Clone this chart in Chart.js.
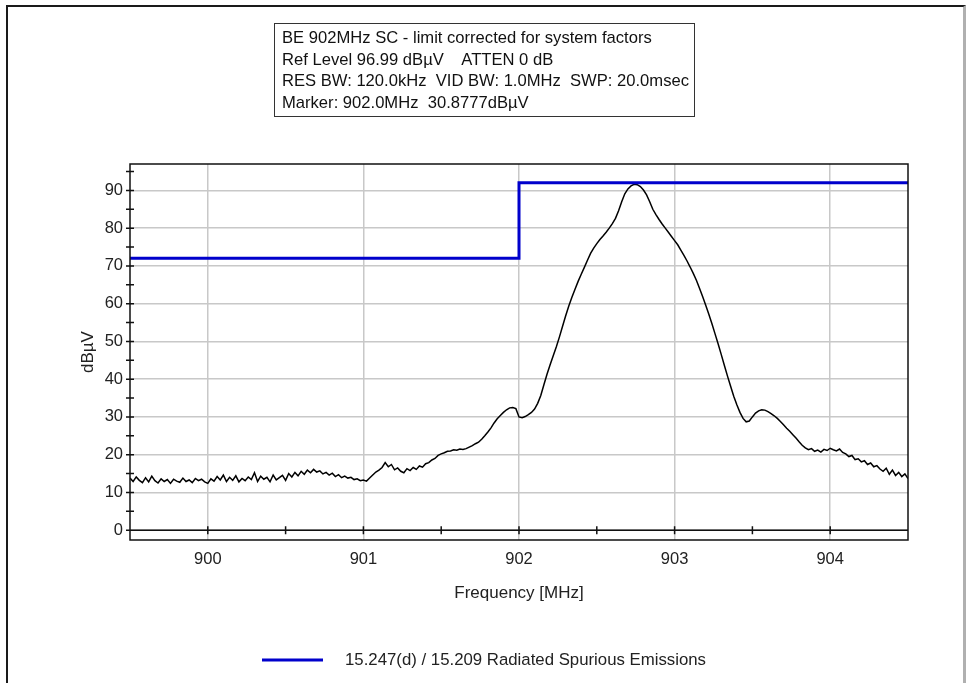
<!DOCTYPE html>
<html>
<head>
<meta charset="utf-8">
<title>BE 902MHz SC - limit corrected for system factors</title>
<script src="https://cdn.jsdelivr.net/npm/chart.js@4.4.0/dist/chart.umd.min.js"></script>
<style>
  html, body { margin: 0; padding: 0; background: #fff; }
  body { width: 967px; height: 683px; position: relative; overflow: hidden; font-family: "Liberation Sans", Arial, sans-serif; }
  #chart { position: absolute; left: 0; top: 0; }
  .frame { position: absolute; left: 6px; top: 5px; width: 955px; height: 720px; border-left: 2px solid #1a1a1a; border-top: 2px solid #1a1a1a; border-right: 3px solid #b0b0b0; }
  .info { position: absolute; left: 274px; top: 23px; width: 421px; height: 94px; box-sizing: border-box; border: 1.5px solid #333; padding: 3px 0 0 7px; font-size: 16.6px; line-height: 21.7px; color: #111; white-space: nowrap; }
</style>
</head>
<body>
<div class="frame"></div>
<canvas id="chart" width="967" height="683"></canvas>
<div class="info">
  BE 902MHz SC - limit corrected for system factors<br>
  Ref Level 96.99 dBµV &nbsp;&nbsp; ATTEN 0 dB<br>
  RES BW: 120.0kHz &nbsp;VID BW: 1.0MHz &nbsp;SWP: 20.0msec<br>
  Marker: 902.0MHz &nbsp;30.8777dBµV
</div>
<script>
// sweep: 899.50 .. 904.50 MHz, one reading every 0.02 MHz
var sweepStart = 899.5;
var sweepStep = 0.02;
var traceLevels = [
  13.8, 12.9, 14.1, 13.2, 12.6, 13.9, 12.8, 14.3, 13.1, 12.5,
  13.6, 12.9, 13.4, 12.4, 13.5, 13.0, 12.7, 13.8, 12.9, 13.3,
  12.6, 13.7, 13.1, 13.5, 12.8, 12.4, 13.6, 13.0, 14.2, 13.3,
  14.6, 12.9, 14.0, 13.2, 14.4, 12.8, 13.7, 13.1, 14.1, 13.4,
  15.2, 12.9, 14.3, 13.5, 14.0, 12.8, 14.6, 13.3, 13.9, 14.5,
  13.2, 15.0, 14.1, 15.3, 14.4, 15.6, 14.8, 15.9, 15.2, 16.1,
  15.4, 15.7, 14.9, 15.3, 14.6, 15.1, 14.2, 14.7, 13.9, 14.3,
  13.8, 14.0, 13.4, 13.6, 13.1, 13.3, 13.0, 13.8, 14.6, 15.4,
  15.9, 16.6, 17.9, 16.8, 17.4, 16.0, 16.5, 15.6, 15.2, 16.3,
  15.8, 16.6, 16.1, 17.0, 16.7, 17.6, 17.9, 18.6, 19.0, 19.8,
  20.2, 20.5, 20.9, 21.0, 21.3, 21.2, 21.5, 21.4, 21.6, 22.0,
  22.4, 22.9, 23.3, 24.1, 25.0, 26.0, 27.1, 28.4, 29.5, 30.4,
  31.2, 31.9, 32.4, 32.5, 32.2, 30.0, 29.8, 30.1, 30.6, 31.2,
  32.1, 33.6, 35.7, 38.5, 41.3, 43.8, 46.2, 48.6, 51.2, 54.0,
  56.8, 59.4, 61.7, 63.8, 65.9, 67.8, 69.6, 71.5, 73.3, 74.7,
  75.9, 77.0, 77.9, 78.9, 80.0, 81.2, 82.6, 84.6, 87.0, 89.1,
  90.4, 91.2, 91.6, 91.5, 91.0, 90.1, 88.8, 87.0, 85.0, 83.6,
  82.3, 81.1, 80.0, 78.9, 77.8, 76.7, 75.6, 74.2, 72.8, 71.3,
  69.7, 68.0, 66.2, 64.1, 61.9, 59.6, 57.2, 54.7, 52.0, 49.3,
  46.5, 43.6, 40.8, 38.1, 35.5, 33.2, 31.2, 29.6, 28.7, 28.9,
  30.0, 31.0, 31.6, 31.9, 31.8, 31.4, 30.9, 30.3, 29.6, 28.8,
  27.9, 27.0, 26.2, 25.3, 24.4, 23.4, 22.5, 21.8, 21.3, 21.6,
  20.9, 21.2, 20.7, 21.4, 21.1, 21.7, 21.3, 21.0, 21.5, 20.6,
  20.2, 19.5, 19.8, 18.7, 18.9, 18.1, 18.4, 17.4, 17.8, 16.8,
  17.1, 16.2, 15.6, 16.4, 14.8, 15.9, 14.5, 15.3, 14.2, 14.9,
  13.7
];

// 15.247(d) / 15.209 limit
var limitFreqs = [899.5, 902.0, 902.0, 904.5];
var limitLevels = [72, 72, 92, 92];

var xTickValues = [900, 901, 902, 903, 904];
var yTickValues = [0, 10, 20, 30, 40, 50, 60, 70, 80, 90];

var xMin = 899.5, xMax = 904.5;
var yMin = -2.6, yMax = 96.99;

var FONT = "'Liberation Sans', Arial, sans-serif";
var LIMIT_COLOR = "#0000cc";

var tracePoints = traceLevels.map(function (v, i) {
  return { x: +(sweepStart + i * sweepStep).toFixed(2), y: v };
});
var limitPoints = limitFreqs.map(function (f, i) {
  return { x: f, y: limitLevels[i] };
});

// border, axis at 0 dB, crossing ticks, axis titles and legend
var framePlugin = {
  id: "frame",
  afterDatasetsDraw: function (chart) {
    var ctx = chart.ctx;
    var a = chart.chartArea;
    var xs = chart.scales.x;
    var ys = chart.scales.y;
    var y0 = ys.getPixelForValue(0);
    var i, p;

    ctx.save();
    ctx.strokeStyle = "#111";
    ctx.lineWidth = 1.5;
    ctx.strokeRect(a.left, a.top, a.right - a.left, a.bottom - a.top);

    ctx.beginPath();
    ctx.moveTo(a.left, y0);
    ctx.lineTo(a.right, y0);
    for (i = 0; i <= 10; i++) {
      p = xs.getPixelForValue(900 + i * 0.5);
      if (p > a.left + 2 && p < a.right - 2) {
        ctx.moveTo(p, y0 - 4);
        ctx.lineTo(p, y0 + 4);
      }
    }
    for (i = 0; i <= 19; i++) {
      p = ys.getPixelForValue(i * 5);
      ctx.moveTo(a.left - 4, p);
      ctx.lineTo(a.left + 4, p);
    }
    ctx.stroke();

    ctx.fillStyle = "#222";
    ctx.font = "17px " + FONT;
    ctx.textAlign = "center";
    ctx.textBaseline = "middle";
    ctx.fillText("Frequency [MHz]", (a.left + a.right) / 2, 593);
    ctx.save();
    ctx.translate(88, 352);
    ctx.rotate(-Math.PI / 2);
    ctx.fillText("dBµV", 0, 0);
    ctx.restore();

    ctx.strokeStyle = LIMIT_COLOR;
    ctx.lineWidth = 3;
    ctx.beginPath();
    ctx.moveTo(262, 660);
    ctx.lineTo(323, 660);
    ctx.stroke();
    ctx.font = "16.8px " + FONT;
    ctx.textAlign = "left";
    ctx.fillText(chart.data.datasets[0].label, 345, 660);
    ctx.restore();
  },
};

var ctx = document.getElementById("chart");
var myChart = new Chart(ctx, {
  type: "line",
  data: {
    datasets: [
      {
        label: "15.247(d) / 15.209 Radiated Spurious Emissions",
        data: limitPoints,
        borderColor: LIMIT_COLOR,
        borderWidth: 3,
        pointRadius: 0,
        fill: false,
      },
      {
        label: "Trace",
        data: tracePoints,
        borderColor: "#000",
        borderWidth: 1.5,
        pointRadius: 0,
        fill: false,
      },
    ],
  },
  options: {
    responsive: false,
    animation: false,
    layout: {
      padding: { left: 0, top: 164, right: 59, bottom: 0 },
    },
    scales: {
      x: {
        type: "linear",
        min: xMin,
        max: xMax,
        afterFit: function (scale) {
          scale.height = 143;
        },
        afterBuildTicks: function (scale) {
          scale.ticks = xTickValues.map(function (v) {
            return { value: v };
          });
        },
        grid: { color: "#c8c8c8", lineWidth: 1.5, drawTicks: false },
        border: { display: false },
        ticks: {
          color: "#222",
          padding: 10,
          maxRotation: 0,
          font: { family: FONT, size: 16.5 },
        },
      },
      y: {
        min: yMin,
        max: yMax,
        afterFit: function (scale) {
          scale.width = 130;
        },
        afterBuildTicks: function (scale) {
          scale.ticks = yTickValues.map(function (v) {
            return { value: v };
          });
        },
        grid: { color: "#c8c8c8", lineWidth: 1.5, drawTicks: false },
        border: { display: false },
        ticks: {
          color: "#222",
          padding: 7,
          font: { family: FONT, size: 16.5 },
        },
      },
    },
    plugins: {
      legend: { display: false },
      tooltip: { enabled: false },
    },
  },
  plugins: [framePlugin],
});
</script>
</body>
</html>
